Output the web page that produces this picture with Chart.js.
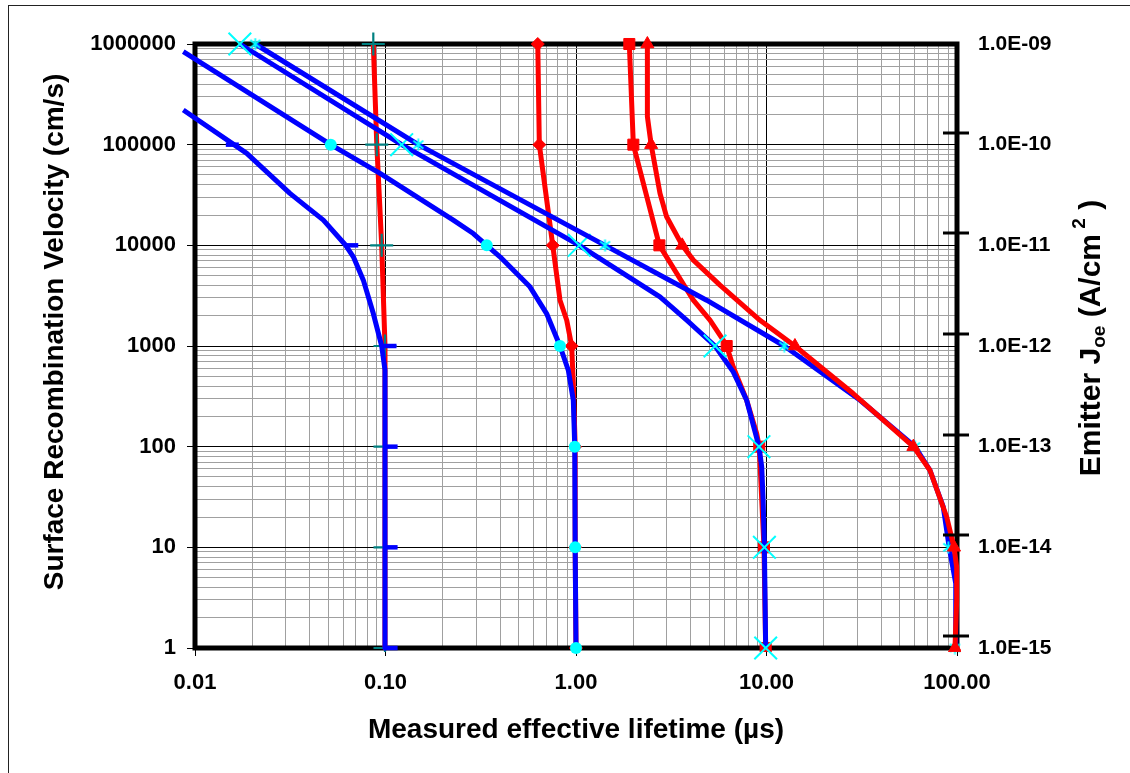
<!DOCTYPE html>
<html>
<head>
<meta charset="utf-8">
<script src="https://cdn.jsdelivr.net/npm/chart.js@4.4.1/dist/chart.umd.min.js"></script>
<style>
  html, body { margin: 0; padding: 0; background: #fff; }
  #wrap { width: 1130px; height: 773px; position: relative; }
</style>
</head>
<body>
<div id="wrap"><canvas id="lifetimeChart"></canvas></div>
<script>
// axis ticks
const tauTicks = [0.01, 0.1, 1, 10, 100];
const srvTicks = [1, 10, 100, 1000, 10000, 100000, 1000000];
const joeTicks = [1e-15, 1e-14, 1e-13, 1e-12, 1e-11, 1e-10, 1e-9];

// S values where the markers sit
const srvMarks = [1000000, 100000, 10000, 1000, 100, 10, 1];

// blue curves: tau_eff vs S for bulk lifetime 0.1 / 1 / 10 / 100 us
const b01S   = [221000, 81900, 32800, 24100, 17800, 10200, 7690, 4510, 2100, 1000, 575, 1];
const b01Tau = [0.00868, 0.0187, 0.0315, 0.0386, 0.0472, 0.0613, 0.0678, 0.0765, 0.0863, 0.0955, 0.0994, 0.0994];
const b1S    = [840000, 100000, 51900, 17800, 13100, 10000, 7690, 3870, 2100, 1000, 575, 289, 100, 10, 1];
const b1Tau  = [0.00868, 0.0516, 0.0936, 0.227, 0.289, 0.340, 0.399, 0.573, 0.701, 0.824, 0.911, 0.968, 0.985, 0.99, 1.0];
const b10S   = [1000000, 100000, 10000, 3076, 1805, 1000, 553, 289, 100, 62.9, 29.3, 10, 1];
const b10Tau = [0.0172, 0.1216, 1.04, 2.76, 3.81, 5.37, 6.69, 7.87, 9.13, 9.44, 9.6, 9.75, 9.9];
const b100S   = [1000000, 100000, 10000, 2851, 1000, 289, 100, 58.3, 25.2, 10, 4.36, 1];
const b100Tau = [0.0207, 0.1486, 1.42, 4.85, 12.4, 31.0, 60.2, 72.1, 84.7, 91, 98.5, 98.5];

// markers on the blue curves
const b01MarkS   = [100000, 10000, 1000, 100, 10, 1];
const b01MarkTau = [0.0157, 0.0665, 0.1056, 0.107, 0.107, 0.107];
const b1MarkS    = [100000, 10000, 1000, 100, 10, 1];
const b1MarkTau  = [0.0516, 0.340, 0.824, 0.985, 0.99, 1.0];
const b10MarkTau  = [0.0172, 0.1216, 1.04, 5.37, 9.13, 9.75, 9.9];
const b100MarkTau = [0.0207, 0.1486, 1.42, 12.4, 60.2, 90, 97.6];

// red curves: emitter J0e (= S x 1e-15 A/cm2 on the right axis)
const r01S   = [1000000, 100000, 10000, 1000, 100, 10, 1];
const r01Tau = [0.0863, 0.09, 0.0955, 0.0994, 0.0994, 0.0994, 0.0994];
const r1S    = [1000000, 100000, 10000, 2851, 1803, 1000, 424, 100, 10, 1];
const r1Tau  = [0.63, 0.642, 0.755, 0.824, 0.894, 0.949, 0.968, 0.99, 0.99, 1.0];
const r10S   = [1000000, 100000, 10000, 2851, 1805, 1143, 1000, 620, 289, 135, 100, 10, 1];
const r10Tau = [1.905, 2.0, 2.74, 4.13, 5.05, 5.93, 6.18, 6.69, 7.87, 8.88, 9.16, 9.7, 9.9];
const r100S   = [1000000, 190000, 100000, 32800, 19200, 10000, 7130, 4020, 1800, 1000, 337, 197, 100, 58.3, 20, 10, 6.37, 2.97, 1];
const r100Tau = [2.37, 2.37, 2.48, 2.76, 2.99, 3.61, 4.13, 5.70, 9.25, 14.1, 28.5, 39.4, 59.0, 72.1, 88.3, 96.5, 99.6, 99.6, 97.6];

const BLUE = '#0000ff', RED = '#ff0000', CYAN = '#00ffff', TEAL = '#008080';
const FONT = '"Liberation Sans", Arial, Helvetica, sans-serif';
const LINE_W = 5;

const pts = (tau, s) => tau.map((t, i) => ({ x: t, y: s[i] }));
const isDecade = v => Math.abs(Math.log10(v) - Math.round(Math.log10(v))) < 1e-6;

// decade + 2..9 ticks so the minor grid gets drawn
function logTicks(list) {
  const out = [];
  for (let i = 0; i < list.length - 1; i++) {
    for (let d = 1; d < 10; d++) out.push({ value: Number((d * list[i]).toPrecision(10)) });
  }
  out.push({ value: list[list.length - 1] });
  return out;
}

// asterisk marker (x with a vertical bar)
const starImg = document.createElement('canvas');
starImg.width = 13; starImg.height = 13;
(() => {
  const c = starImg.getContext('2d');
  c.strokeStyle = CYAN; c.lineWidth = 1.8;
  c.beginPath();
  c.moveTo(6.5, 0.5); c.lineTo(6.5, 12.5);
  c.moveTo(1.5, 2.5); c.lineTo(11.5, 10.5);
  c.moveTo(1.5, 10.5); c.lineTo(11.5, 2.5);
  c.stroke();
})();

function curve(label, tau, s, color, order, extra) {
  return Object.assign({
    label, data: pts(tau, s), showLine: true,
    borderColor: color, backgroundColor: color, borderWidth: LINE_W,
    borderJoinStyle: 'round', tension: 0,
    pointRadius: 0, pointHoverRadius: 0,
    order, clip: { left: 14, top: 16, right: 4, bottom: 4 }
  }, extra || {});
}

function markers(label, tau, s, order, style) {
  return Object.assign({
    label, data: pts(tau, s), showLine: false,
    pointHoverRadius: 0, order, clip: false
  }, style);
}

function redMarks(style, radius, color, width) {
  return {
    pointStyle: style,
    pointRadius: c => (c.raw && isDecade(c.raw.y)) ? radius : 0,
    pointBackgroundColor: color,
    pointBorderColor: color,
    pointBorderWidth: width
  };
}

const datasets = [
  curve('J0e, 100 us', r100Tau, r100S, RED, 0, redMarks('triangle', 7.5, RED, 1)),
  markers('100 us marks', b100MarkTau, srvMarks, 1, { pointStyle: starImg, pointRadius: 6 }),
  curve('100 us', b100Tau, b100S, BLUE, 2),
  markers('10 us marks', b10MarkTau, srvMarks, 3, {
    pointStyle: 'crossRot', pointRadius: 16, pointBorderColor: CYAN, pointBorderWidth: 2
  }),
  markers('1 us marks', b1MarkTau, b1MarkS, 4, {
    pointStyle: 'circle', pointRadius: 6, pointBackgroundColor: CYAN, pointBorderColor: CYAN, pointBorderWidth: 0
  }),
  markers('0.1 us marks', b01MarkTau, b01MarkS, 5, {
    pointStyle: 'line', pointRadius: 6.5, pointBorderColor: BLUE, pointBorderWidth: 4.5
  }),
  curve('10 us', b10Tau, b10S, BLUE, 6),
  curve('1 us', b1Tau, b1S, BLUE, 7),
  curve('0.1 us', b01Tau, b01S, BLUE, 8),
  curve('J0e, 0.1 us', r01Tau, r01S, RED, 9, redMarks('cross', 11.5, TEAL, 2.2)),
  curve('J0e, 10 us', r10Tau, r10S, RED, 10, redMarks('rect', 7.8, RED, 1)),
  curve('J0e, 1 us', r1Tau, r1S, RED, 11, redMarks('rectRot', 6.5, RED, 1))
];

const decor = {
  id: 'decor',
  beforeDraw(chart) {
    const ctx = chart.ctx;
    ctx.save();
    ctx.strokeStyle = '#222';
    ctx.lineWidth = 1;
    ctx.strokeRect(8.5, 5.5, chart.width + 20, chart.height + 20);
    ctx.restore();
  },
  beforeDatasetsDraw(chart) {
    const { ctx, chartArea: a } = chart;
    ctx.save();
    ctx.strokeStyle = '#000';
    ctx.lineWidth = 5;
    ctx.strokeRect(a.left, a.top, a.right - a.left, a.bottom - a.top);
    ctx.restore();
  },
  afterDraw(chart) {
    const { ctx, chartArea: a } = chart;
    const joe = chart.scales.y2;
    ctx.save();
    // right-axis tick marks (cross type, sit a little above their labels)
    ctx.strokeStyle = '#000';
    ctx.lineWidth = 3;
    joeTicks.slice(0, -1).forEach(v => {
      const y = Math.round(joe.getPixelForValue(v)) - 12;
      ctx.beginPath();
      ctx.moveTo(a.right - 14, y);
      ctx.lineTo(a.right + 12, y);
      ctx.stroke();
    });

    ctx.fillStyle = '#000';
    ctx.textBaseline = 'middle';

    // left title
    ctx.save();
    ctx.translate(a.left - 140, a.top + 288);
    ctx.rotate(-Math.PI / 2);
    ctx.font = 'bold 28px ' + FONT;
    ctx.textAlign = 'center';
    ctx.fillText('Surface Recombination Velocity (cm/s)', 0, 0);
    ctx.restore();

    // right title with subscript / superscript
    const big = 'bold 30px ' + FONT, small = 'bold 19px ' + FONT;
    const parts = [
      ['Emitter J', big, 0], ['oe', small, 8], [' (A/cm', big, 0], [' 2', small, -12], [' )', big, 0]
    ];
    ctx.save();
    ctx.translate(a.right + 135, a.top + 294);
    ctx.rotate(-Math.PI / 2);
    ctx.textAlign = 'left';
    let total = 0;
    parts.forEach(p => { ctx.font = p[1]; total += ctx.measureText(p[0]).width; });
    let x = -total / 2;
    parts.forEach(p => {
      ctx.font = p[1];
      ctx.fillText(p[0], x, p[2]);
      x += ctx.measureText(p[0]).width;
    });
    ctx.restore();
    ctx.restore();
  }
};

const gridColor = c => (c.tick && isDecade(c.tick.value)) ? '#000' : '#a0a0a0';
const tickColor = c => (c.tick && isDecade(c.tick.value)) ? '#000' : 'rgba(0,0,0,0)';

new Chart(document.getElementById('lifetimeChart'), {
  type: 'scatter',
  data: { datasets },
  plugins: [decor],
  options: {
    responsive: true,
    maintainAspectRatio: false,
    animation: false,
    events: [],
    layout: { padding: { top: 44, left: 0, right: 0, bottom: 0 } },
    plugins: {
      legend: { display: false },
      tooltip: { enabled: false }
    },
    scales: {
      x: {
        type: 'logarithmic',
        position: 'bottom',
        min: tauTicks[0],
        max: tauTicks[tauTicks.length - 1],
        afterBuildTicks: s => { s.ticks = logTicks(tauTicks); },
        afterFit: s => { s.height = 125; },
        border: { display: false },
        grid: { color: gridColor, tickColor: tickColor, lineWidth: 1, tickLength: 8 },
        ticks: {
          autoSkip: false, maxRotation: 0, padding: 14, color: '#000',
          font: { family: FONT, size: 22, weight: 'bold' },
          callback: v => isDecade(v) ? Number(v).toFixed(2) : ''
        },
        title: {
          display: true, text: 'Measured effective lifetime (µs)', color: '#000',
          font: { family: FONT, size: 28, weight: 'bold' },
          padding: { top: 0, bottom: 26 }
        }
      },
      y: {
        type: 'logarithmic',
        position: 'left',
        min: srvTicks[0],
        max: srvTicks[srvTicks.length - 1],
        afterBuildTicks: s => { s.ticks = logTicks(srvTicks); },
        afterFit: s => { s.width = 195; },
        border: { display: false },
        grid: { color: gridColor, tickColor: tickColor, lineWidth: 1, tickLength: 8 },
        ticks: {
          autoSkip: false, padding: 11, color: '#000',
          font: { family: FONT, size: 22, weight: 'bold' },
          callback: v => isDecade(v) ? String(Math.round(v)) : ''
        }
      },
      y2: {
        type: 'logarithmic',
        position: 'right',
        min: joeTicks[0],
        max: joeTicks[joeTicks.length - 1],
        afterBuildTicks: s => { s.ticks = joeTicks.map(v => ({ value: v })); },
        afterFit: s => { s.width = 173; },
        border: { display: false },
        grid: { display: false, drawTicks: false },
        ticks: {
          autoSkip: false, padding: 21, color: '#000',
          font: { family: FONT, size: 21, weight: 'bold' },
          callback: v => {
            const e = Math.round(Math.log10(v));
            return '1.0E' + (e < 0 ? '-' : '+') + String(Math.abs(e)).padStart(2, '0');
          }
        }
      }
    }
  }
});
</script>
</body>
</html>
